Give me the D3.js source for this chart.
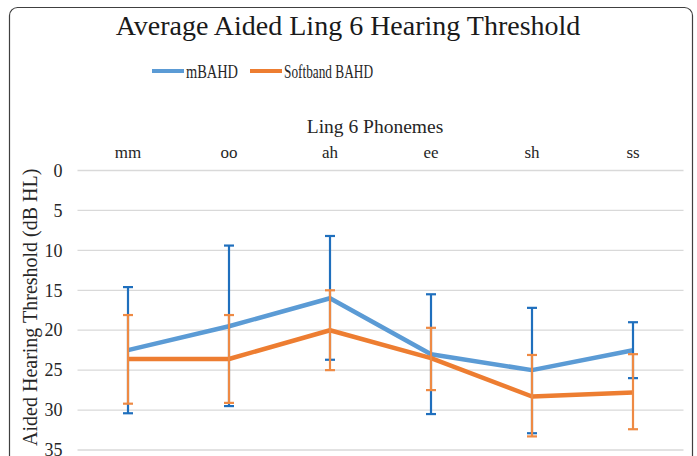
<!DOCTYPE html>
<html>
<head>
<meta charset="utf-8">
<script src="https://cdn.jsdelivr.net/npm/d3@7"></script>
<style>
  body { margin: 0; background: #fff; }
  svg text { font-family: "Liberation Serif", "DejaVu Serif", serif !important; }
</style>
</head>
<body>
<div id="chart"></div>
<script>
// data
var phonemes = ["mm", "oo", "ah", "ee", "sh", "ss"];
var mbahd = [22.5, 19.5, 16, 23, 25, 22.5];
var mbahdHigh = [14.6, 9.4, 8.2, 15.5, 17.2, 19];
var mbahdLow = [30.4, 29.5, 23.7, 30.5, 32.9, 26];
var softband = [23.6, 23.6, 20, 23.5, 28.3, 27.8];
var softbandHigh = [18.1, 18.1, 15, 19.7, 23.1, 23];
var softbandLow = [29.2, 29.1, 25, 27.5, 33.3, 32.4];
var yTicks = [0, 5, 10, 15, 20, 25, 30, 35];

var svgWidth = 697, svgHeight = 456;

var svg = d3.select("#chart").append("svg")
  .attr("width", svgWidth)
  .attr("height", svgHeight);

// chart border, cut at the bottom like the reference
svg.append("rect")
  .attr("x", 9.5).attr("y", 7.5)
  .attr("width", 683).attr("height", 470)
  .attr("rx", 8)
  .attr("fill", "none")
  .attr("stroke", "#404040")
  .attr("stroke-width", 1.2);

var plot = { left: 77.5, right: 683.5, top: 170.5, bottom: 450 };

var x = d3.scaleBand()
  .domain(phonemes)
  .range([plot.left, plot.right]);

var y = d3.scaleLinear()
  .domain([0, 35])
  .range([plot.top, plot.bottom]);

// gridlines
svg.append("g").selectAll("line")
  .data(yTicks)
  .enter().append("line")
  .attr("x1", plot.left).attr("x2", plot.right)
  .attr("y1", d => y(d)).attr("y2", d => y(d))
  .attr("stroke", "#d9d9d9")
  .attr("stroke-width", 1.3);

// y axis tick labels
var leftAxis = d3.axisLeft(y).tickValues(yTicks).tickSize(0).tickPadding(15);
var yAxisG = svg.append("g")
  .attr("transform", `translate(${plot.left},0)`)
  .call(leftAxis);
yAxisG.select(".domain").remove();
yAxisG.selectAll("text")
  .attr("font-size", "18px")
  .attr("fill", "#262626");

// top category axis
var topAxis = d3.axisTop(x).tickSize(0).tickPadding(13);
var xAxisG = svg.append("g")
  .attr("transform", `translate(0,${plot.top})`)
  .call(topAxis);
xAxisG.select(".domain").remove();
xAxisG.selectAll("text")
  .attr("font-size", "17px")
  .attr("fill", "#262626");

// titles
svg.append("text")
  .attr("x", 348).attr("y", 35)
  .attr("text-anchor", "middle")
  .attr("font-size", "28px")
  .attr("fill", "#1a1a1a")
  .text("Average Aided Ling 6 Hearing Threshold");

svg.append("text")
  .attr("x", 375).attr("y", 133)
  .attr("text-anchor", "middle")
  .attr("font-size", "19.5px")
  .attr("fill", "#262626")
  .text("Ling 6 Phonemes");

svg.append("text")
  .attr("transform", `translate(37, ${(plot.top + plot.bottom) / 2 - 3}) rotate(-90)`)
  .attr("text-anchor", "middle")
  .attr("font-size", "20px")
  .attr("fill", "#262626")
  .text("Aided Hearing Threshold (dB HL)");

// legend
var legend = [
  { name: "mBAHD", color: "#5b9bd5", x: 152, w: 52 },
  { name: "Softband BAHD", color: "#ed7d31", x: 250, w: 89 }
];
var lg = svg.append("g").selectAll("g")
  .data(legend)
  .enter().append("g");
lg.append("line")
  .attr("x1", d => d.x).attr("x2", d => d.x + 32)
  .attr("y1", 71).attr("y2", 71)
  .attr("stroke", d => d.color)
  .attr("stroke-width", 4);
lg.append("text")
  .attr("x", d => d.x + 34).attr("y", 77.5)
  .attr("font-size", "18.5px")
  .attr("textLength", d => d.w)
  .attr("lengthAdjust", "spacingAndGlyphs")
  .attr("fill", "#262626")
  .text(d => d.name);

var cx = d => x(d) + x.bandwidth() / 2;

function drawSeries(values, high, low, lineColor, barColor) {
  var line = d3.line()
    .x((d, i) => cx(phonemes[i]))
    .y(d => y(d));

  svg.append("path")
    .datum(values)
    .attr("d", line)
    .attr("fill", "none")
    .attr("stroke", lineColor)
    .attr("stroke-width", 4.5)
    .attr("stroke-linejoin", "round");

  var bars = svg.append("g").selectAll("g")
    .data(phonemes)
    .enter().append("g")
    .attr("stroke", barColor)
    .attr("stroke-width", 2.2);
  bars.append("line")
    .attr("x1", d => cx(d)).attr("x2", d => cx(d))
    .attr("y1", (d, i) => y(high[i])).attr("y2", (d, i) => y(low[i]));
  bars.append("line")
    .attr("x1", d => cx(d) - 5).attr("x2", d => cx(d) + 5)
    .attr("y1", (d, i) => y(high[i])).attr("y2", (d, i) => y(high[i]));
  bars.append("line")
    .attr("x1", d => cx(d) - 5).attr("x2", d => cx(d) + 5)
    .attr("y1", (d, i) => y(low[i])).attr("y2", (d, i) => y(low[i]));
}

drawSeries(mbahd, mbahdHigh, mbahdLow, "#5b9bd5", "#1f6fbd");
drawSeries(softband, softbandHigh, softbandLow, "#ed7d31", "#ee8a44");
</script>
</body>
</html>
